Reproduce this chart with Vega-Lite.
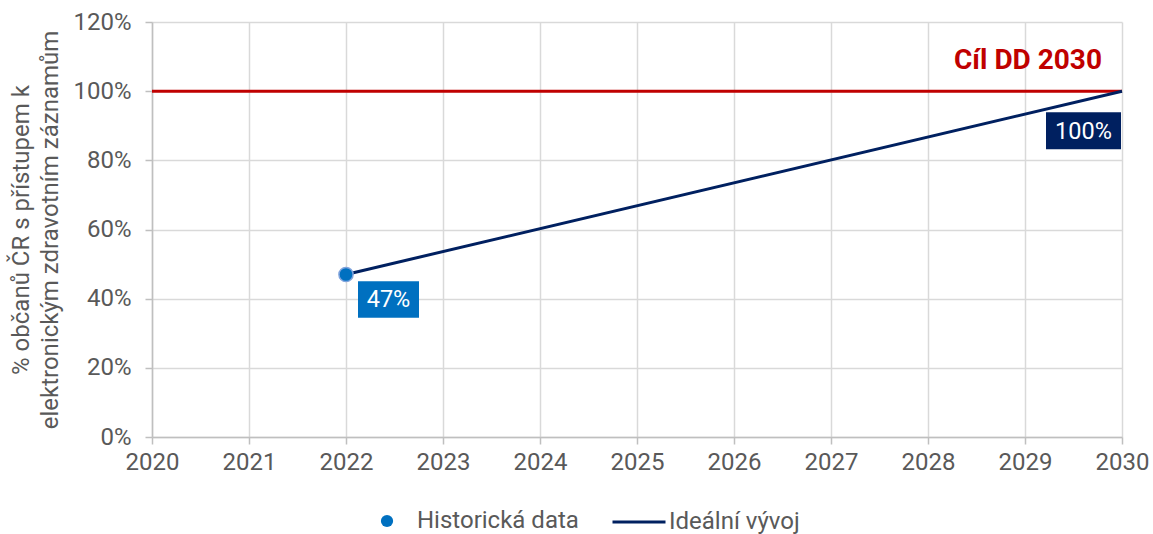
{
  "$schema": "https://vega.github.io/schema/vega-lite/v6.json",
  "width": 970,
  "height": 415,
  "autosize": {"type": "none"},
  "padding": {"left": 152, "top": 22, "right": 31, "bottom": 97},
  "background": "white",
  "config": {
    "font": "Roboto",
    "view": {"stroke": null},
    "axis": {
      "labelFont": "Roboto", "labelFontSize": 24, "labelColor": "#595959",
      "titleFont": "Roboto", "titleFontSize": 24, "titleColor": "#595959", "titleFontWeight": "normal",
      "domainColor": "#bfbfbf", "domainWidth": 1.5, "tickColor": "#bfbfbf", "tickWidth": 1.5,
      "gridColor": "#d9d9d9", "gridWidth": 1.5
    },
    "legend": {"labelFont": "Roboto", "labelFontSize": 24, "labelColor": "#595959", "labelLimit": 400}
  },
  "datasets": {
    "hist": [{"year": 2022, "value": 0.47, "series": "Historická data"}],
    "ideal": [
      {"year": 2022, "value": 0.47, "series": "Ideální vývoj"},
      {"year": 2030, "value": 1.0, "series": "Ideální vývoj"}
    ],
    "target": [
      {"year": 2020, "value": 1.0, "label": "Cíl DD 2030"},
      {"year": 2030, "value": 1.0, "label": "Cíl DD 2030"}
    ]
  },
  "layer": [
    {
      "data": {"name": "target"},
      "mark": {"type": "line", "color": "#C00000", "strokeWidth": 3},
      "encoding": {
        "x": {
          "field": "year", "type": "quantitative",
          "scale": {"domain": [2020, 2030], "nice": false, "zero": false},
          "axis": {"format": "d", "values": [2020,2021,2022,2023,2024,2025,2026,2027,2028,2029,2030], "title": null, "tickSize": 7, "labelPadding": 6, "labelFlush": false}
        },
        "y": {
          "field": "value", "type": "quantitative",
          "scale": {"domain": [0, 1.2], "nice": false},
          "axis": {"format": ".0%", "values": [0,0.2,0.4,0.6,0.8,1.0,1.2], "tickSize": 7, "labelPadding": 14,
            "title": ["% občanů ČR s přístupem k", "elektronickým zdravotním záznamům"], "titleLineHeight": 29, "titlePadding": 10}
        }
      }
    },
    {
      "data": {"name": "target"},
      "transform": [{"filter": "datum.year == 2030"}],
      "mark": {"type": "text", "color": "#C00000", "fontSize": 28, "fontWeight": "bold", "align": "right", "baseline": "middle", "dx": -20, "dy": -30},
      "encoding": {
        "x": {"field": "year", "type": "quantitative"},
        "y": {"field": "value", "type": "quantitative"},
        "text": {"field": "label"}
      }
    },
    {
      "data": {"name": "ideal"},
      "mark": {"type": "line", "strokeWidth": 3},
      "encoding": {
        "x": {"field": "year", "type": "quantitative"},
        "y": {"field": "value", "type": "quantitative"},
        "stroke": {
          "field": "series", "type": "nominal",
          "scale": {"domain": ["Ideální vývoj"], "range": ["#002060"]},
          "legend": {"title": null, "orient": "none", "legendX": 459, "legendY": 472, "symbolType": "stroke", "symbolSize": 2809, "symbolStrokeWidth": 3, "labelOffset": 2}
        }
      }
    },
    {
      "data": {"name": "hist"},
      "mark": {"type": "point", "filled": true, "size": 200, "stroke": "#7fa3dc", "strokeWidth": 1.5, "opacity": 1},
      "encoding": {
        "x": {"field": "year", "type": "quantitative"},
        "y": {"field": "value", "type": "quantitative"},
        "fill": {
          "field": "series", "type": "nominal",
          "scale": {"domain": ["Historická data"], "range": ["#0070C0"]},
          "legend": {"title": null, "orient": "none", "legendX": 223, "legendY": 487, "symbolType": "circle", "symbolSize": 150, "symbolStrokeWidth": 0, "symbolOpacity": 1, "labelOffset": 18}
        }
      }
    },
    {
      "data": {"name": "hist"},
      "mark": {"type": "point", "filled": true, "shape": "M-1,-0.6L1,-0.6L1,0.6L-1,0.6Z", "size": 3721, "color": "#0070C0", "opacity": 1, "xOffset": 42.5, "yOffset": 25},
      "encoding": {
        "x": {"field": "year", "type": "quantitative"},
        "y": {"field": "value", "type": "quantitative"}
      }
    },
    {
      "data": {"name": "hist"},
      "mark": {"type": "text", "color": "white", "fontSize": 23.5, "align": "center", "baseline": "middle", "dx": 42.5, "dy": 26},
      "encoding": {
        "x": {"field": "year", "type": "quantitative"},
        "y": {"field": "value", "type": "quantitative"},
        "text": {"field": "value", "type": "quantitative", "format": ".0%"}
      }
    },
    {
      "data": {"name": "ideal"},
      "transform": [{"filter": "datum.year == 2030"}],
      "mark": {"type": "point", "filled": true, "shape": "M-1,-0.493L1,-0.493L1,0.493L-1,0.493Z", "size": 5625, "color": "#002060", "opacity": 1, "xOffset": -38.5, "yOffset": 39.5},
      "encoding": {
        "x": {"field": "year", "type": "quantitative"},
        "y": {"field": "value", "type": "quantitative"}
      }
    },
    {
      "data": {"name": "ideal"},
      "transform": [{"filter": "datum.year == 2030"}],
      "mark": {"type": "text", "color": "white", "fontSize": 23.5, "align": "center", "baseline": "middle", "dx": -38.5, "dy": 40.5},
      "encoding": {
        "x": {"field": "year", "type": "quantitative"},
        "y": {"field": "value", "type": "quantitative"},
        "text": {"field": "value", "type": "quantitative", "format": ".0%"}
      }
    }
  ],
  "resolve": {"scale": {"fill": "independent", "stroke": "independent"}}
}
